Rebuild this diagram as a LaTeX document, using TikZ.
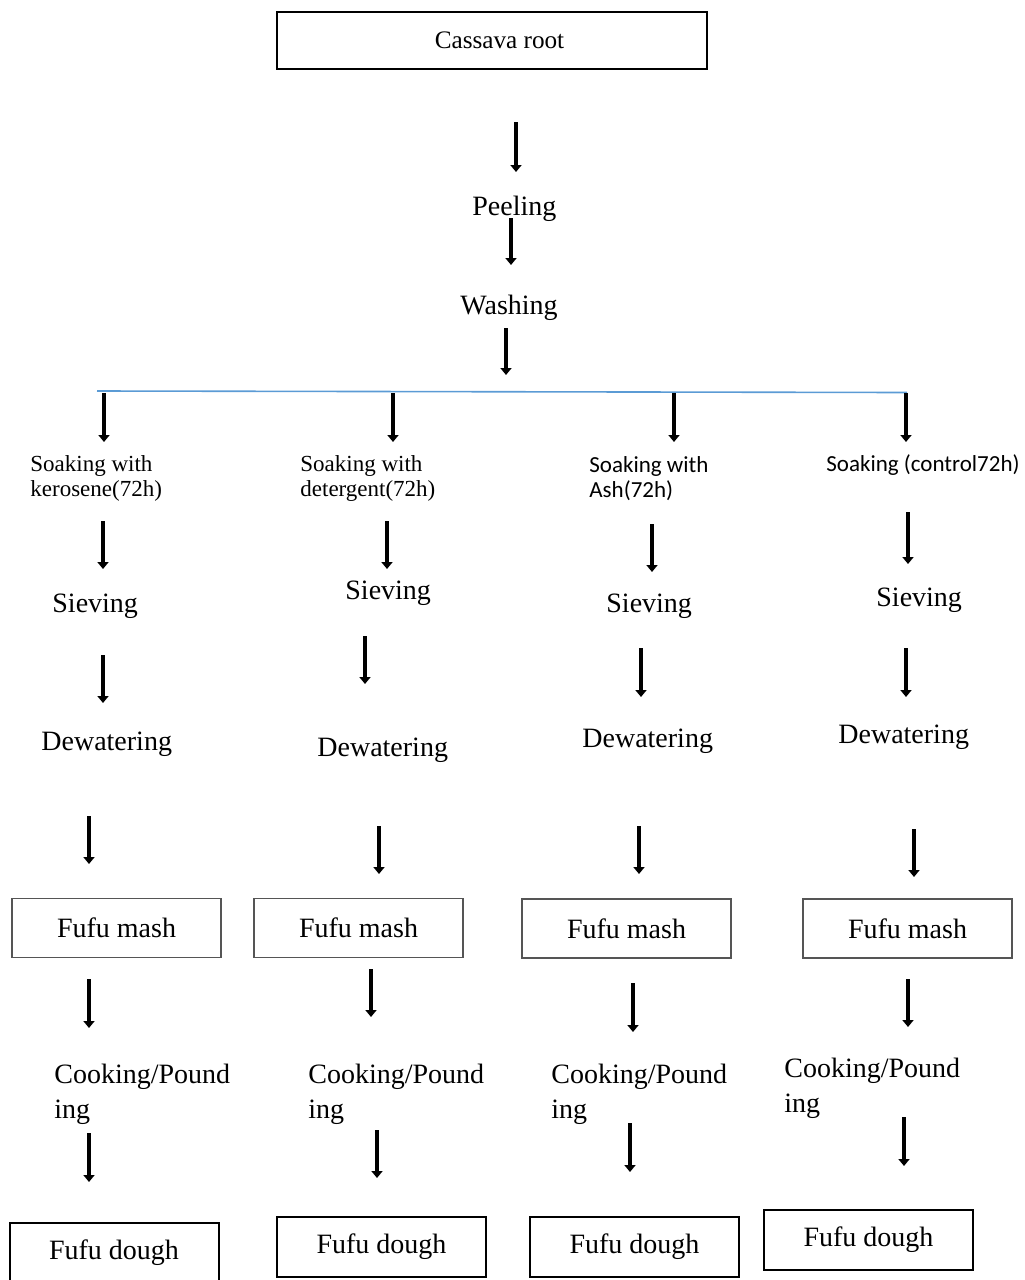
\documentclass[tikz,border=0pt]{standalone}
\usepackage{fontspec}
\setmainfont{Liberation Serif}
\newfontfamily\calibrifont{Carlito}
\usepackage{xcolor}
\definecolor{fufuBlue}{HTML}{5B9BD5}
\definecolor{fufuGray}{HTML}{555555}
\usepackage{tikz}
\usetikzlibrary{arrows.meta,positioning}

\begin{document}
\begin{tikzpicture}[x=0.5pt,y=-0.5pt]
  \tikzset{
    rootbox/.style={
      draw=black,
      line width=1pt,
      minimum width=215pt,
      minimum height=28.5pt,
      inner sep=0pt,
      font=\fontsize{12.6}{15}\selectfont,
    },
    mashbox/.style={
      draw=fufuGray,
      line width=0.6pt,
      minimum width=104.5pt,
      minimum height=29.5pt,
      inner sep=0pt,
      font=\fontsize{14}{17}\selectfont,
    },
    doughbox/.style={
      draw=black,
      line width=1pt,
      minimum width=104.5pt,
      minimum height=30pt,
      inner sep=0pt,
      font=\fontsize{14}{17}\selectfont,
    },
    steptext/.style={
      anchor=base west,
      inner sep=0pt,
      align=left,
      font=\fontsize{14}{17.5}\selectfont,
    },
    soaktext/.style={
      anchor=base west,
      inner sep=0pt,
      align=left,
      font=\fontsize{11.5}{12.5}\selectfont,
    },
    flowarrow/.style={
      line width=2.2pt,
      -{Triangle[width=5.5pt,length=3.5pt]},
    },
  }

  \useasboundingbox (0,0) rectangle (1024,1280);

  % Common steps at the top.
  \node[rootbox] (root) at (492,40.5) {\hspace{7.5pt}Cassava root};
  \node[steptext] (peel) at (472,215) {Peeling};
  \node[steptext] (wash) at (460,314) {Washing};

  % Branch line.
  \coordinate (busL) at (97,391);
  \coordinate (busR) at (907,392.5);
  \draw[fufuBlue,line width=0.8pt] (busL) -- (busR);

  % Four soaking treatments (base = last line).
  \node[soaktext] (soak1) at (30,496) {Soaking with\\kerosene(72h)};
  \node[soaktext] (soak2) at (300,496) {Soaking with\\detergent(72h)};
  \node[soaktext,font=\fontsize{11.5}{12.5}\calibrifont] (soak3) at (589,497)
    {Soaking with\\Ash(72h)};
  \node[soaktext,font=\fontsize{11.5}{12.5}\calibrifont] (soak4) at (826,471)
    {Soaking (control72h)};

  \node[steptext] (sieve1) at (52,612) {Sieving};
  \node[steptext] (sieve2) at (345,599) {Sieving};
  \node[steptext] (sieve3) at (606,612) {Sieving};
  \node[steptext] (sieve4) at (876,606) {Sieving};

  \node[steptext] (dewater1) at (41,750) {Dewatering};
  \node[steptext] (dewater2) at (317,756) {Dewatering};
  \node[steptext] (dewater3) at (582,747) {Dewatering};
  \node[steptext] (dewater4) at (838,743) {Dewatering};

  \node[mashbox] (mash1) at (116.5,928) {Fufu mash};
  \node[mashbox] (mash2) at (358.5,928) {Fufu mash};
  \node[mashbox] (mash3) at (626.5,928.5) {Fufu mash};
  \node[mashbox] (mash4) at (907.5,928.5) {Fufu mash};

  \node[steptext] (cook1) at (54,1118) {Cooking/Pound\\ing};
  \node[steptext] (cook2) at (308,1118) {Cooking/Pound\\ing};
  \node[steptext] (cook3) at (551,1118) {Cooking/Pound\\ing};
  \node[steptext] (cook4) at (784,1112) {Cooking/Pound\\ing};

  \node[doughbox] (dough1) at (114,1253) {Fufu dough};
  \node[doughbox] (dough2) at (381.5,1246.5) {Fufu dough};
  \node[doughbox] (dough3) at (634.5,1246.5) {Fufu dough};
  \node[doughbox] (dough4) at (868.5,1239.5) {Fufu dough};

  % Free-standing arrows: number/x/top/tip.
  \foreach \n/\x/\ya/\yb in {
      1/516/122/172, 2/511/218/265, 3/506/328/375,
      4/104/393/442, 5/393/393/442, 6/674/393/442, 7/906/393/442,
      8/103/521/569, 9/387/521/569, 10/652/524/572, 11/908/512/564,
      12/103/655/703, 13/365/636/684, 14/641/648/697, 15/906/648/697,
      16/89/816/864, 17/379/826/874, 18/639/826/874, 19/914/829/877,
      20/89/979/1028, 21/371/969/1017, 22/633/983/1032, 23/908/979/1027,
      24/89/1133/1182, 25/377/1130/1178, 26/630/1123/1172, 27/904/1117/1166} {
    \coordinate (top\n) at (\x,\ya);
    \coordinate (tip\n) at (\x,\yb);
    \draw[flowarrow] (top\n) -- (tip\n);
  }
\end{tikzpicture}
\end{document}
